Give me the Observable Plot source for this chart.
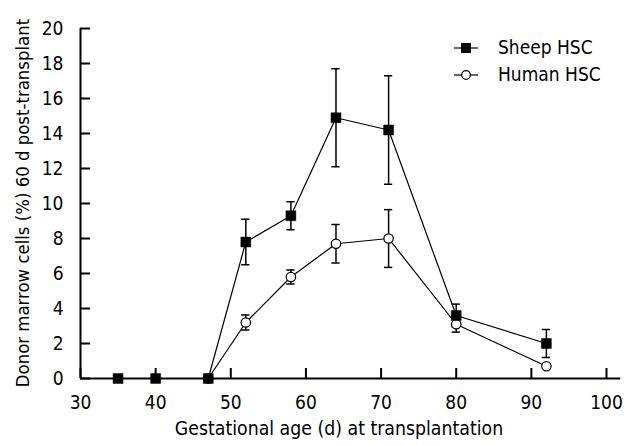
<!DOCTYPE html>
<html><head><meta charset="utf-8">
<script src="https://cdn.jsdelivr.net/npm/d3@7"></script>
<script src="https://cdn.jsdelivr.net/npm/@observablehq/plot@0.6"></script>
<style>
html,body{margin:0;padding:0;background:#fff;}
#wrap{position:relative;width:630px;height:446px;font-family:"DejaVu Sans Condensed","DejaVu Sans",sans-serif;}
#legend{position:absolute;left:453px;top:34px;font-size:19px;line-height:27px;color:#000;}
#legend div{display:flex;align-items:center;}
#legend svg{margin-right:19px;}
</style></head>
<body><div id="wrap"><div id="legend"></div></div>
<script>
const ages = [35, 40, 47, 52, 58, 64, 71, 80, 92];
const sheepMean = [0, 0, 0, 7.8, 9.3, 14.9, 14.2, 3.6, 2.0];
const sheepErr  = [0, 0, 0, 1.3, 0.8, 2.8, 3.1, 0.65, 0.8];
const humanMean = [0, 0, 0, 3.2, 5.8, 7.7, 8.0, 3.1, 0.7];
const humanErr  = [0, 0, 0, 0.43, 0.4, 1.1, 1.65, 0.45, 0];
const xTicks = [30, 40, 50, 60, 70, 80, 90, 100];
const yTicks = [0, 2, 4, 6, 8, 10, 12, 14, 16, 18, 20];
const seriesNames = ["Sheep HSC", "Human HSC"];

const FONT = "DejaVu Sans Condensed, DejaVu Sans, sans-serif";
const sheep = ages.map((a, i) => ({x: a, y: sheepMean[i], e: sheepErr[i]}));
const human = ages.map((a, i) => ({x: a, y: humanMean[i], e: humanErr[i]}));
const humanLine = human.filter(d => d.x >= 47);
const err = (arr) => arr.filter(d => d.e > 0);
const capW = 0.55;
const caps = (arr) => err(arr).flatMap(d => [{x: d.x, y: d.y + d.e}, {x: d.x, y: d.y - d.e}]);

const chart = Plot.plot({
  width: 630, height: 446,
  marginLeft: 80, marginRight: 24, marginTop: 28, marginBottom: 68,
  style: {fontFamily: FONT, fontSize: "19px", background: "#fff", color: "#000"},
  x: {domain: [30, 100], axis: null},
  y: {domain: [0, 20], axis: null},
  marks: [
    Plot.ruleX([30], {y1: 0, y2: 20, stroke: "#000", strokeWidth: 2}),
    Plot.ruleY([0], {x1: 30, x2: 101.9, stroke: "#000", strokeWidth: 2}),
    Plot.ruleY(yTicks, {x1: 30, x2: 31.33, stroke: "#000", strokeWidth: 2}),
    Plot.ruleX(xTicks, {y1: 0, y2: 0.57, stroke: "#000", strokeWidth: 2}),
    Plot.text(yTicks, {x: 30, y: d => d, text: d => String(d), textAnchor: "end", dx: -17, fontSize: 19}),
    Plot.text(xTicks, {x: d => d, y: 0, text: d => String(d), dy: 24, fontSize: 19}),
    Plot.ruleX(err(human), {x: "x", y1: d => d.y - d.e, y2: d => d.y + d.e, stroke: "#000", strokeWidth: 1.5}),
    Plot.ruleY(caps(human), {y: "y", x1: d => d.x - capW, x2: d => d.x + capW, stroke: "#000", strokeWidth: 1.5}),
    Plot.ruleX(err(sheep), {x: "x", y1: d => d.y - d.e, y2: d => d.y + d.e, stroke: "#000", strokeWidth: 1.5}),
    Plot.ruleY(caps(sheep), {y: "y", x1: d => d.x - capW, x2: d => d.x + capW, stroke: "#000", strokeWidth: 1.5}),
    Plot.line(humanLine, {x: "x", y: "y", stroke: "#000", strokeWidth: 1.2}),
    Plot.line(sheep, {x: "x", y: "y", stroke: "#000", strokeWidth: 1.2}),
    Plot.dot(humanLine, {x: "x", y: "y", r: 4.7, fill: "#fff", stroke: "#000", strokeWidth: 1.2}),
    Plot.dot(sheep, {x: "x", y: "y", symbol: "square", r: 5.6, fill: "#000", stroke: "#000", strokeWidth: 0.5})
  ]
});

const svg = d3.select(chart);
svg.append("text")
  .attr("x", 339).attr("y", 435)
  .attr("text-anchor", "middle")
  .attr("font-size", 19.3).attr("font-family", FONT)
  .text("Gestational age (d) at transplantation");
svg.append("text")
  .attr("transform", "translate(29,203) rotate(-90)")
  .attr("text-anchor", "middle")
  .attr("font-size", 18.4).attr("font-family", FONT)
  .text("Donor marrow cells (%) 60 d post-transplant");

document.getElementById("wrap").prepend(chart);
chart.style.position = "absolute"; chart.style.left = "0"; chart.style.top = "0";

const legend = d3.select("#legend");
seriesNames.forEach((name, i) => {
  const row = legend.append("div");
  const s = row.append("svg").attr("width", 26).attr("height", 14);
  s.append("line").attr("x1", 1).attr("x2", 25).attr("y1", 7).attr("y2", 7).attr("stroke", "#000").attr("stroke-width", 1.2);
  if (i === 0) s.append("rect").attr("x", 8).attr("y", 2).attr("width", 10).attr("height", 10).attr("fill", "#000");
  else s.append("circle").attr("cx", 13).attr("cy", 7).attr("r", 4.3).attr("fill", "#fff").attr("stroke", "#000").attr("stroke-width", 1.2);
  row.append("span").text(name);
});
</script></body></html>
